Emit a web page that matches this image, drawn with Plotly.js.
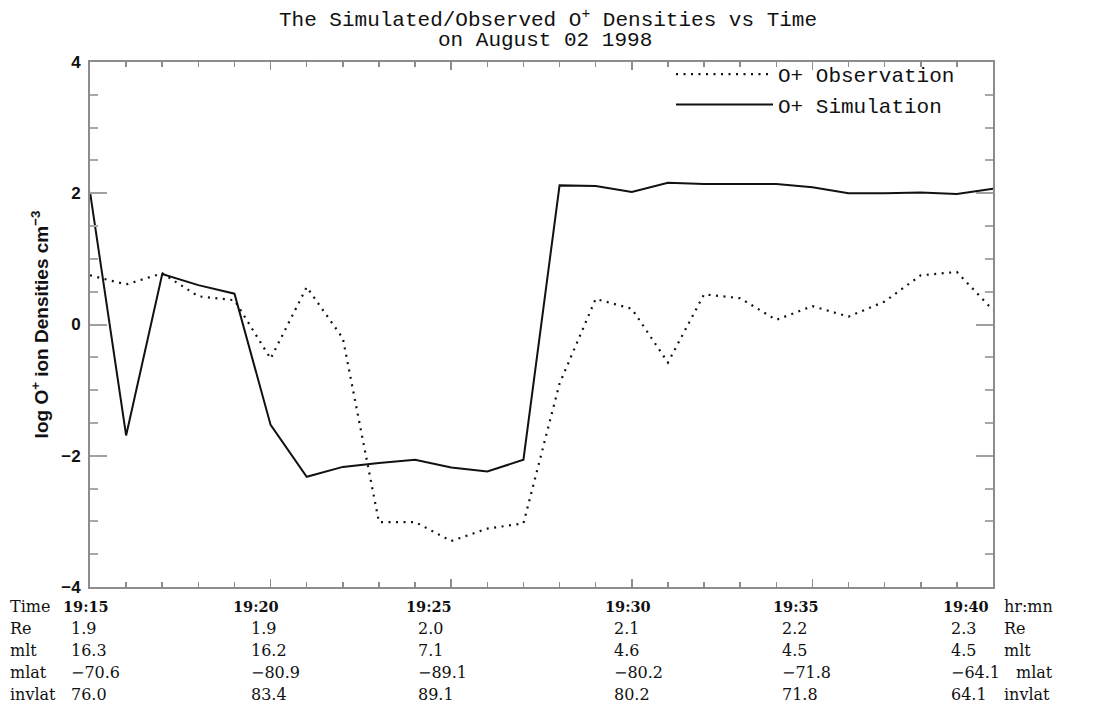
<!DOCTYPE html>
<html>
<head>
<meta charset="utf-8">
<script src="https://cdn.plot.ly/plotly-3.0.1.min.js"></script>
<style>
  html, body { margin: 0; padding: 0; background: #fff; }
  #chart { width: 1096px; height: 707px; }
</style>
</head>
<body>
<div id="chart"></div>
<script>
// Sample times (hr:mn), one per minute
const times = ['19:15','19:16','19:17','19:18','19:19','19:20','19:21','19:22','19:23',
               '19:24','19:25','19:26','19:27','19:28','19:29','19:30','19:31','19:32',
               '19:33','19:34','19:35','19:36','19:37','19:38','19:39','19:40'];

// log10 O+ density (cm^-3)
const observed = [0.75, 0.61, 0.78, 0.43, 0.37, -0.52, 0.57, -0.21, -3.01,
                  -3.01, -3.30, -3.11, -3.03, -0.90, 0.39, 0.24, -0.58, 0.46,
                  0.40, 0.07, 0.28, 0.12, 0.35, 0.75, 0.80, 0.22];
const simulated = [2.02, -1.69, 0.77, 0.60, 0.47, -1.53, -2.32, -2.17, -2.11,
                   -2.06, -2.18, -2.24, -2.06, 2.12, 2.11, 2.02, 2.16, 2.14,
                   2.14, 2.14, 2.09, 2.00, 2.00, 2.01, 1.99, 2.07];

// Orbit ephemeris at the labelled times
const labelTimes = ['19:15', '19:20', '19:25', '19:30', '19:35', '19:40'];
const reVals     = ['1.9', '1.9', '2.0', '2.1', '2.2', '2.3'];
const mltVals    = ['16.3', '16.2', '7.1', '4.6', '4.5', '4.5'];
const mlatVals   = ['\u221270.6', '\u221280.9', '\u221289.1', '\u221280.2', '\u221271.8', '\u221264.1'];
const invlatVals = ['76.0', '83.4', '89.1', '80.2', '71.8', '64.1'];

const day = '1998-08-02 ';
const xs = times.map(t => day + t);

// plot box in pixels
const W = 1096, H = 707;
const M = { l: 90, r: 103, t: 62, b: 120 };
const plotW = W - M.l - M.r, plotH = H - M.t - M.b;
const px = x => (x - M.l) / plotW;
const py = y => (H - M.b - y) / plotH;

const monoFont = 'Liberation Mono, DejaVu Sans Mono, monospace';
const serifFont = 'DejaVu Serif, Liberation Serif, serif';
const sansFont = 'Liberation Sans, Arial, sans-serif';
const axisGray = '#8c8c8c';

const traces = [
  {
    x: xs, y: observed, type: 'scatter', mode: 'lines',
    name: 'O+ Observation',
    line: { color: '#111', width: 2.2, dash: '2px,5.5px' }
  },
  {
    x: xs, y: simulated, type: 'scatter', mode: 'lines',
    name: 'O+ Simulation',
    line: { color: '#111', width: 2 }
  }
];

const annotations = [];
function addText(text, x, y, opts) {
  annotations.push(Object.assign({
    text: text, xref: 'paper', yref: 'paper', x: px(x), y: py(y),
    xanchor: 'left', yanchor: 'middle', showarrow: false,
    borderpad: 0, borderwidth: 0,
    font: { family: serifFont, size: 16, color: '#111' }
  }, opts || {}));
}

// second title line
addText('on August 02 1998', 545, 41,
        { xanchor: 'center', font: { family: monoFont, size: 21, color: '#111' } });

// ephemeris table under the time axis
const rowY = [606, 628, 650, 672, 694];
const rowNames = ['Time', 'Re', 'mlt', 'mlat', 'invlat'];
const rowUnits = ['hr:mn', 'Re', 'mlt', 'mlat', 'invlat'];
const unitX = [1004, 1004, 1004, 1016, 1004];
const timeColX = [63, 233, 406, 605, 773, 943];
const valColX = [71, 251, 418, 614, 782, 951];
const rows = [labelTimes, reVals, mltVals, mlatVals, invlatVals];

rows.forEach((vals, r) => {
  addText(rowNames[r], 10, rowY[r]);
  addText(rowUnits[r], unitX[r], rowY[r]);
  vals.forEach((v, c) => {
    if (r === 0) {
      addText('<b>' + v + '</b>', timeColX[c], rowY[r],
              { font: { family: serifFont, size: 14.5, color: '#111' } });
    } else {
      addText(v, valColX[c], rowY[r]);
    }
  });
});

const layout = {
  width: W, height: H,
  margin: M,
  paper_bgcolor: '#fff', plot_bgcolor: '#fff',
  showlegend: true,
  title: {
    text: 'The Simulated/Observed O<sup>+</sup> Densities vs Time',
    font: { family: monoFont, size: 21, color: '#111' },
    x: 548 / W, xanchor: 'center', xref: 'container',
    y: 1 - 19 / H, yanchor: 'middle', yref: 'container'
  },
  legend: {
    x: px(671), y: py(54), xanchor: 'left', yanchor: 'top',
    bgcolor: 'rgba(0,0,0,0)', borderwidth: 0,
    font: { family: monoFont, size: 21, color: '#111' },
    itemwidth: 97, tracegroupgap: 0
  },
  xaxis: {
    type: 'date',
    range: [day + '19:15', day + '19:40'],
    tick0: day + '19:15', dtick: 300000,
    ticks: 'inside', ticklen: 8, tickwidth: 1.5, tickcolor: axisGray,
    minor: { dtick: 60000, ticks: 'inside', ticklen: 5, tickwidth: 1.5, tickcolor: axisGray },
    showticklabels: false,
    showgrid: false, zeroline: false,
    showline: true, linecolor: axisGray, linewidth: 2, mirror: 'ticks'
  },
  yaxis: {
    range: [-4, 4],
    tickvals: [-4, -2, 0, 2, 4],
    ticktext: ['\u22124', '\u22122', '0', '2', '4'],
    ticks: 'inside', ticklen: 17, tickwidth: 2, tickcolor: '#a0a0a0',
    minor: { dtick: 0.5, ticks: 'inside', ticklen: 8, tickwidth: 2, tickcolor: '#a8a8a8' },
    tickfont: { family: sansFont, size: 17, color: '#111', weight: 'bold' },
    ticklabelstandoff: 4,
    showgrid: false, zeroline: false,
    showline: true, linecolor: axisGray, linewidth: 2, mirror: 'ticks',
    title: {
      text: 'log O<sup>+</sup> ion Densities cm<sup>\u22123</sup>',
      font: { family: sansFont, size: 19, color: '#111', weight: 'bold' },
      standoff: 8
    }
  },
  annotations: annotations
};

Plotly.newPlot('chart', traces, layout, { displayModeBar: false, staticPlot: true });
</script>
</body>
</html>
